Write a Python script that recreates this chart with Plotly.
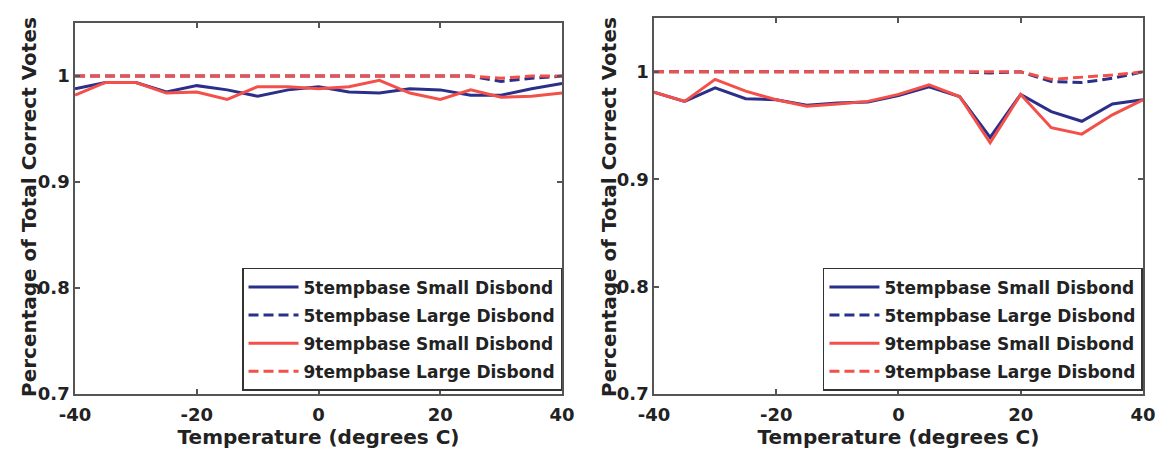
import plotly.graph_objects as go

# Temperature grid (degrees C)
temps = [-40, -35, -30, -25, -20, -15, -10, -5, 0, 5, 10, 15, 20, 25, 30, 35, 40]

# Left panel
left_5_small = [0.988, 0.994, 0.994, 0.985, 0.991, 0.987, 0.981, 0.987, 0.990, 0.985,
                0.984, 0.988, 0.987, 0.982, 0.982, 0.988, 0.993]
left_5_large = [1.0, 1.0, 1.0, 1.0, 1.0, 1.0, 1.0, 1.0, 1.0, 1.0,
                1.0, 1.0, 1.0, 1.0, 0.995, 0.998, 1.0]
left_9_small = [0.982, 0.994, 0.994, 0.984, 0.985, 0.978, 0.990, 0.990, 0.988, 0.990,
                0.996, 0.984, 0.978, 0.987, 0.980, 0.981, 0.984]
left_9_large = [1.0, 1.0, 1.0, 1.0, 1.0, 1.0, 1.0, 1.0, 1.0, 1.0,
                1.0, 1.0, 1.0, 1.0, 0.998, 1.0, 1.0]

# Right panel
right_5_small = [0.981, 0.9725, 0.985, 0.975, 0.974, 0.969, 0.971, 0.972, 0.978, 0.986,
                 0.977, 0.939, 0.979, 0.963, 0.954, 0.970, 0.974]
right_5_large = [1.0, 1.0, 1.0, 1.0, 1.0, 1.0, 1.0, 1.0, 1.0, 1.0,
                 1.0, 0.999, 1.0, 0.991, 0.990, 0.994, 1.0]
right_9_small = [0.981, 0.9725, 0.993, 0.982, 0.974, 0.968, 0.970, 0.9725, 0.979, 0.988,
                 0.977, 0.934, 0.979, 0.948, 0.942, 0.960, 0.974]
right_9_large = [1.0, 1.0, 1.0, 1.0, 1.0, 1.0, 1.0, 1.0, 1.0, 1.0,
                 1.0, 1.0, 1.0, 0.993, 0.995, 0.997, 1.0]

series_names = ["5tempbase Small Disbond", "5tempbase Large Disbond",
                "9tempbase Small Disbond", "9tempbase Large Disbond"]

x_ticks = [-40, -20, 0, 20, 40]
x_tick_text = ["-40", "-20", "0", "20", "40"]
y_ticks = [0.7, 0.8, 0.9, 1.0]
y_tick_text = ["0.7", "0.8", "0.9", "1"]

x_title = "Temperature (degrees C)"
y_title = "Percentage of Total Correct Votes"

BLUE = "#2a2f8a"
RED = "#f4504a"
DASH = "10px,5px"
FONT = "DejaVu Sans, Liberation Sans, sans-serif"
AXIS_COLOR = "#555555"
TEXT_COLOR = "#222222"

styles = [(BLUE, "solid"), (BLUE, DASH), (RED, "solid"), (RED, DASH)]

fig = go.Figure()

panels = [
    ("x", "y", "legend", [left_5_small, left_5_large, left_9_small, left_9_large]),
    ("x2", "y2", "legend2", [right_5_small, right_5_large, right_9_small, right_9_large]),
]

for xa, ya, leg, data in panels:
    for i, (name, vals, (color, dash)) in enumerate(zip(series_names, data, styles)):
        fig.add_trace(go.Scatter(
            x=temps, y=vals, name=name, mode="lines",
            line=dict(color=color, width=3, dash=dash),
            xaxis=xa, yaxis=ya, legend=leg, legendgroup=f"{leg}_{i}",
        ))

axis_common = dict(
    showline=True, mirror="ticks", linecolor=AXIS_COLOR, linewidth=1.5,
    ticks="inside", ticklen=5, tickcolor=AXIS_COLOR, tickwidth=1.5,
    showgrid=False, zeroline=False,
    tickfont=dict(family=FONT, size=18, color=TEXT_COLOR, weight="bold"),
)

title_font = dict(family=FONT, size=20, color=TEXT_COLOR, weight="bold")

x_common = dict(axis_common, range=[-40, 40], tickvals=x_ticks, ticktext=x_tick_text,
                ticklabelstandoff=4,
                title=dict(text=x_title, font=title_font, standoff=5))
y_common = dict(axis_common, range=[0.7, 1.05], tickvals=y_ticks, ticktext=y_tick_text)

legend_common = dict(
    bgcolor="white", bordercolor="#333333", borderwidth=1.5,
    font=dict(family=FONT, size=17, color=TEXT_COLOR, weight="bold"),
    xanchor="right", yanchor="bottom", tracegroupgap=3, itemwidth=50,
)

# Vertical y-axis titles placed beside each panel
y_title_annotations = [
    dict(text=y_title, x=x_pos, y=0.543, xref="paper", yref="paper",
         xanchor="center", yanchor="middle", textangle=-90, showarrow=False,
         font=title_font)
    for x_pos in (0.025, 0.525)
]

fig.update_layout(
    width=1160, height=453,
    margin=dict(l=0, r=0, t=0, b=0, autoexpand=False),
    paper_bgcolor="white", plot_bgcolor="white",
    font=dict(family=FONT, color=TEXT_COLOR),
    xaxis=dict(x_common, domain=[0.0647, 0.4845], anchor="y"),
    yaxis=dict(y_common, domain=[0.130, 0.949], anchor="x"),
    xaxis2=dict(x_common, domain=[0.5638, 0.9853], anchor="y2"),
    yaxis2=dict(y_common, domain=[0.130, 0.960], anchor="x2"),
    legend=dict(legend_common, x=0.4845, y=0.137),
    legend2=dict(legend_common, x=0.9853, y=0.137),
    annotations=y_title_annotations,
)

fig.write_html("out.html")
